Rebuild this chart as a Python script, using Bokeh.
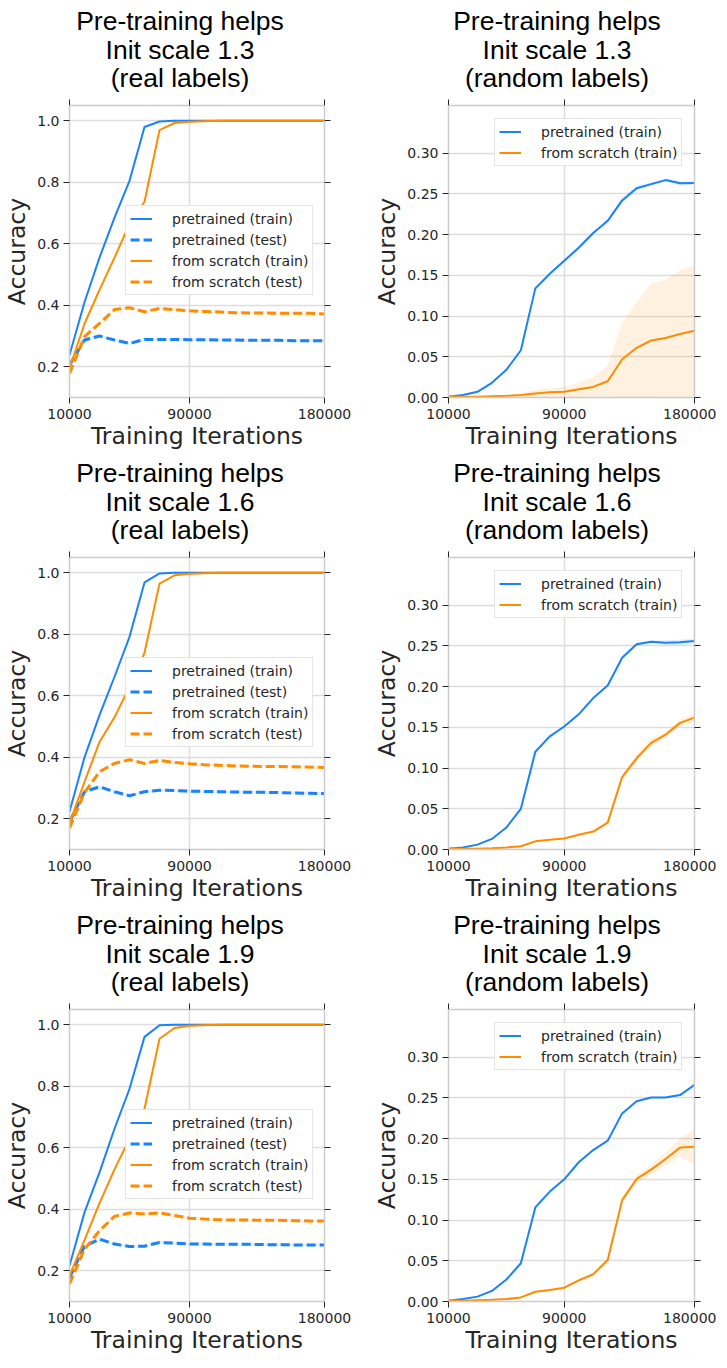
from bokeh.plotting import figure
from bokeh.models import (Range1d, FixedTicker, LinearAxis, Legend, LegendItem,
                          PrintfTickFormatter, CustomJSTickFormatter)
from bokeh.layouts import column, row
from bokeh.embed import file_html
from bokeh.resources import INLINE
from bokeh.core.properties import value

# ---------------- data ----------------
iterations = [10000, 20000, 30000, 40000, 50000, 60000, 70000, 80000, 90000,
              100000, 110000, 120000, 130000, 140000, 150000, 160000, 170000, 180000]

x_ticks = [10000, 90000, 180000]
real_y_ticks = [0.2, 0.4, 0.6, 0.8, 1.0]
rand_y_ticks = [0.0, 0.05, 0.10, 0.15, 0.20, 0.25, 0.30]

init_scales = ["1.3", "1.6", "1.9"]

# real labels, init scale 1.3
real_13_pre_train = [0.238, 0.41, 0.555, 0.685, 0.805, 0.98, 0.998, 1.0, 1.0, 1.0, 1.0, 1.0, 1.0, 1.0, 1.0, 1.0, 1.0, 1.0]
real_13_pre_test = [0.205, 0.287, 0.300, 0.287, 0.276, 0.289, 0.289, 0.289, 0.288, 0.288, 0.287, 0.287, 0.286, 0.286, 0.286, 0.285, 0.285, 0.285]
real_13_scr_train = [0.195, 0.34, 0.45, 0.555, 0.665, 0.737, 0.97, 0.993, 0.997, 0.999, 1.0, 1.0, 1.0, 1.0, 1.0, 1.0, 1.0, 1.0]
real_13_scr_test = [0.178, 0.298, 0.341, 0.386, 0.392, 0.379, 0.390, 0.386, 0.382, 0.380, 0.378, 0.376, 0.375, 0.375, 0.374, 0.374, 0.374, 0.372]

# real labels, init scale 1.6
real_16_pre_train = [0.223, 0.40, 0.537, 0.662, 0.792, 0.969, 0.998, 1.0, 1.0, 1.0, 1.0, 1.0, 1.0, 1.0, 1.0, 1.0, 1.0, 1.0]
real_16_pre_test = [0.19, 0.288, 0.304, 0.288, 0.275, 0.288, 0.293, 0.292, 0.290, 0.289, 0.288, 0.287, 0.286, 0.286, 0.285, 0.284, 0.283, 0.282]
real_16_scr_train = [0.185, 0.32, 0.45, 0.53, 0.63, 0.74, 0.965, 0.992, 0.997, 0.999, 1.0, 1.0, 1.0, 1.0, 1.0, 1.0, 1.0, 1.0]
real_16_scr_test = [0.17, 0.285, 0.353, 0.38, 0.392, 0.38, 0.39, 0.383, 0.379, 0.376, 0.374, 0.372, 0.371, 0.370, 0.370, 0.369, 0.368, 0.367]

# real labels, init scale 1.9
real_19_pre_train = [0.216, 0.39, 0.52, 0.662, 0.792, 0.961, 0.999, 1.0, 1.0, 1.0, 1.0, 1.0, 1.0, 1.0, 1.0, 1.0, 1.0, 1.0]
real_19_pre_test = [0.178, 0.28, 0.303, 0.287, 0.279, 0.28, 0.292, 0.29, 0.287, 0.287, 0.286, 0.286, 0.286, 0.285, 0.285, 0.284, 0.284, 0.284]
real_19_scr_train = [0.184, 0.30, 0.42, 0.53, 0.63, 0.727, 0.955, 0.99, 0.997, 0.999, 1.0, 1.0, 1.0, 1.0, 1.0, 1.0, 1.0, 1.0]
real_19_scr_test = [0.157, 0.27, 0.33, 0.377, 0.388, 0.385, 0.388, 0.38, 0.371, 0.368, 0.366, 0.365, 0.365, 0.364, 0.364, 0.363, 0.362, 0.362]

# spread of the test curves (shared, small)
real_test_std = [0.010, 0.007, 0.006, 0.005, 0.005, 0.005, 0.005, 0.005, 0.005, 0.005, 0.005, 0.005, 0.005, 0.005, 0.005, 0.005, 0.005, 0.005]

# random labels, init scale 1.3
rand_13_pre = [0.001, 0.003, 0.007, 0.018, 0.034, 0.058, 0.134, 0.152, 0.168, 0.184, 0.202, 0.217, 0.242, 0.257, 0.262, 0.267, 0.263, 0.2635]
rand_13_pre_std = [0.0, 0.0, 0.0005, 0.001, 0.001, 0.001, 0.002, 0.002, 0.002, 0.002, 0.002, 0.002, 0.004, 0.003, 0.002, 0.002, 0.003, 0.002]
rand_13_scr = [0.001, 0.001, 0.001, 0.0015, 0.002, 0.003, 0.005, 0.0065, 0.007, 0.010, 0.013, 0.020, 0.047, 0.061, 0.070, 0.073, 0.078, 0.082]
rand_13_scr_lo = [0.0005, 0.0005, 0.0005, 0.001, 0.0, 0.0, 0.0, 0.0, 0.0, 0.0, 0.0, 0.0, 0.0, 0.0, 0.0, 0.0, 0.0, 0.0]
rand_13_scr_hi = [0.0015, 0.0015, 0.0015, 0.002, 0.0025, 0.004, 0.010, 0.011, 0.013, 0.018, 0.025, 0.039, 0.092, 0.117, 0.140, 0.145, 0.156, 0.163]

# random labels, init scale 1.6
rand_16_pre = [0.001, 0.0025, 0.006, 0.013, 0.027, 0.050, 0.120, 0.139, 0.151, 0.166, 0.186, 0.2015, 0.2355, 0.252, 0.255, 0.254, 0.2545, 0.256]
rand_16_pre_std = [0.0, 0.0, 0.0005, 0.001, 0.001, 0.001, 0.002, 0.002, 0.001, 0.001, 0.001, 0.001, 0.002, 0.002, 0.002, 0.003, 0.003, 0.003]
rand_16_scr = [0.001, 0.001, 0.001, 0.0015, 0.0025, 0.004, 0.010, 0.012, 0.0135, 0.018, 0.022, 0.033, 0.089, 0.112, 0.131, 0.141, 0.1555, 0.162]
rand_16_scr_std = [0.0, 0.0, 0.0, 0.0, 0.0005, 0.0005, 0.001, 0.001, 0.001, 0.001, 0.001, 0.002, 0.004, 0.005, 0.005, 0.004, 0.004, 0.005]

# random labels, init scale 1.9
rand_19_pre = [0.001, 0.003, 0.006, 0.013, 0.027, 0.047, 0.1155, 0.135, 0.150, 0.171, 0.186, 0.1975, 0.231, 0.246, 0.2505, 0.2505, 0.2535, 0.266]
rand_19_pre_std = [0.0, 0.0, 0.0005, 0.001, 0.001, 0.001, 0.002, 0.001, 0.001, 0.001, 0.001, 0.001, 0.001, 0.001, 0.001, 0.001, 0.001, 0.001]
rand_19_scr = [0.001, 0.001, 0.0015, 0.002, 0.003, 0.005, 0.012, 0.014, 0.017, 0.026, 0.0335, 0.051, 0.1245, 0.1505, 0.162, 0.175, 0.189, 0.190]
rand_19_scr_std = [0.0, 0.0, 0.0, 0.0, 0.0, 0.0005, 0.001, 0.001, 0.0015, 0.002, 0.002, 0.003, 0.004, 0.005, 0.006, 0.008, 0.011, 0.022]


def sym(ys, sd):
    return [y - s for y, s in zip(ys, sd)], [y + s for y, s in zip(ys, sd)]


real_series = [
    (real_13_pre_train, real_13_pre_test, real_13_scr_train, real_13_scr_test),
    (real_16_pre_train, real_16_pre_test, real_16_scr_train, real_16_scr_test),
    (real_19_pre_train, real_19_pre_test, real_19_scr_train, real_19_scr_test),
]
rand_series = [
    (rand_13_pre, sym(rand_13_pre, rand_13_pre_std), rand_13_scr, (rand_13_scr_lo, rand_13_scr_hi)),
    (rand_16_pre, sym(rand_16_pre, rand_16_pre_std), rand_16_scr, sym(rand_16_scr, rand_16_scr_std)),
    (rand_19_pre, sym(rand_19_pre, rand_19_pre_std), rand_19_scr, sym(rand_19_scr, rand_19_scr_std)),
]

# ---------------- style ----------------
BLUE = "#1a82fb"
ORANGE = "#ff8c00"
SPINE = "#cccccc"
GRID = "#dddddd"
INK = "#262626"
FONT = "DejaVu Sans"
TITLE_FONT = "Liberation Sans"

LEFT_W, RIGHT_W = 356, 355
TITLE_H = 97
FRAME_H = 292
REAL_Y = (0.1, 1.05)
RAND_Y = (0.0, 0.3586)


def style_axis(ax):
    ax.axis_line_color = SPINE
    ax.axis_line_width = 1.5
    ax.major_tick_line_color = INK
    ax.major_tick_line_width = 1
    ax.major_tick_in = 0
    ax.major_tick_out = 6
    ax.minor_tick_line_color = None
    ax.major_label_text_font = FONT
    ax.major_label_text_font_size = "14px"
    ax.major_label_text_color = INK
    ax.axis_label_text_font = FONT
    ax.axis_label_text_font_size = "23.5px"
    ax.axis_label_text_font_style = "normal"
    ax.axis_label_text_color = INK


def hidden_axis(ticks, standoff=0):
    ax = LinearAxis(ticker=FixedTicker(ticks=ticks),
                    formatter=CustomJSTickFormatter(code="return ''"))
    style_axis(ax)
    ax.major_label_text_font_size = "1px"
    ax.major_label_standoff = standoff
    return ax


def spacer_axis(space):
    ax = hidden_axis(x_ticks, space)
    ax.axis_line_color = None
    ax.major_tick_line_color = None
    ax.major_tick_out = 0
    return ax


def make_panel(kind, frame_w, b_left, b_right):
    if kind == "real":
        yr = Range1d(*REAL_Y)
        yticks = real_y_ticks
        yfmt = "%.1f"
    else:
        yr = Range1d(*RAND_Y)
        yticks = rand_y_ticks
        yfmt = "%.2f"
    p = figure(frame_width=frame_w, frame_height=FRAME_H,
               min_border_left=b_left, min_border_right=b_right,
               min_border_top=8, min_border_bottom=53,
               x_range=Range1d(10000, 180000), y_range=yr,
               toolbar_location=None, tools="", output_backend="svg")
    p.outline_line_color = None
    p.background_fill_color = "white"
    p.border_fill_color = "white"

    xa = p.xaxis[0]
    ya = p.yaxis[0]
    xa.ticker = FixedTicker(ticks=x_ticks)
    ya.ticker = FixedTicker(ticks=yticks)
    xa.formatter = PrintfTickFormatter(format="%d")
    ya.formatter = PrintfTickFormatter(format=yfmt)
    style_axis(xa)
    style_axis(ya)
    xa.axis_label = "Training Iterations"
    ya.axis_label = "Accuracy"
    xa.major_label_standoff = 5
    xa.axis_label_standoff = 0
    ya.major_label_standoff = 4
    ya.axis_label_standoff = 3

    p.xgrid.grid_line_color = GRID
    p.xgrid.grid_line_width = 1.5
    p.ygrid.grid_line_color = GRID
    p.ygrid.grid_line_width = 1.5

    p.add_layout(hidden_axis(x_ticks, 1), "above")
    p.add_layout(hidden_axis(yticks), "right")
    p.add_layout(spacer_axis(6), "below")
    return p


def title_fig(width, lines, cx):
    t = figure(frame_width=width, frame_height=TITLE_H, x_range=Range1d(0, width),
               y_range=Range1d(0, TITLE_H), x_axis_type=None, y_axis_type=None,
               min_border_left=0, min_border_right=0, min_border_top=0,
               min_border_bottom=0, toolbar_location=None, tools="",
               output_backend="svg")
    t.outline_line_color = None
    t.background_fill_color = "white"
    t.border_fill_color = "white"
    baselines = [20.3, 49.3, 77.0]
    t.text(x=[cx] * 3, y=[TITLE_H - b for b in baselines], text=lines,
           text_align="center", text_baseline="alphabetic",
           text_font=value(TITLE_FONT), text_font_size=value("26.5px"),
           text_color="black")
    return t


def make_legend(items, loc):
    return Legend(items=items, location=loc, padding=4, spacing=4,
                  glyph_width=22, glyph_height=17, label_height=17,
                  label_standoff=20, label_text_font=FONT,
                  label_text_font_size="14px", label_text_color=INK,
                  border_line_color=SPINE, border_line_width=1,
                  background_fill_color="white", background_fill_alpha=1.0,
                  margin=0)


blocks = []
for i, scale in enumerate(init_scales):
    # ---- real labels panel ----
    pre_tr, pre_te, scr_tr, scr_te = real_series[i]
    pl = make_panel("real", 255, 64, 37)
    lo, hi = sym(pre_te, real_test_std)
    pl.varea(x=iterations, y1=lo, y2=hi, fill_color=BLUE, fill_alpha=0.12)
    lo, hi = sym(scr_te, real_test_std)
    pl.varea(x=iterations, y1=lo, y2=hi, fill_color=ORANGE, fill_alpha=0.12)
    r1 = pl.line(iterations, pre_tr, line_color=BLUE, line_width=2)
    r2 = pl.line(iterations, pre_te, line_color=BLUE, line_width=3, line_dash="9 4")
    r3 = pl.line(iterations, scr_tr, line_color=ORANGE, line_width=2)
    r4 = pl.line(iterations, scr_te, line_color=ORANGE, line_width=3, line_dash="9 4")
    pl.add_layout(make_legend([
        LegendItem(label="pretrained (train)", renderers=[r1]),
        LegendItem(label="pretrained (test)", renderers=[r2]),
        LegendItem(label="from scratch (train)", renderers=[r3]),
        LegendItem(label="from scratch (test)", renderers=[r4]),
    ], (56, 102)))
    tl = title_fig(LEFT_W, ["Pre-training helps", "Init scale " + scale, "(real labels)"], 179.5)

    # ---- random labels panel ----
    pre, (plo, phi), scr, (slo, shi) = rand_series[i]
    pr = make_panel("rand", 246, 87, 22)
    pr.varea(x=iterations, y1=plo, y2=phi, fill_color=BLUE, fill_alpha=0.12)
    pr.varea(x=iterations, y1=slo, y2=shi, fill_color=ORANGE, fill_alpha=0.12)
    q1 = pr.line(iterations, pre, line_color=BLUE, line_width=2)
    q2 = pr.line(iterations, scr, line_color=ORANGE, line_width=2)
    pr.add_layout(make_legend([
        LegendItem(label="pretrained (train)", renderers=[q1]),
        LegendItem(label="from scratch (train)", renderers=[q2]),
    ], (46, 231)))
    tr = title_fig(RIGHT_W, ["Pre-training helps", "Init scale " + scale, "(random labels)"], 200.5)

    blocks.append(row(tl, tr))
    blocks.append(row(pl, pr))

layout = column(*blocks)

open("out.html", "w").write(file_html(layout, INLINE))
